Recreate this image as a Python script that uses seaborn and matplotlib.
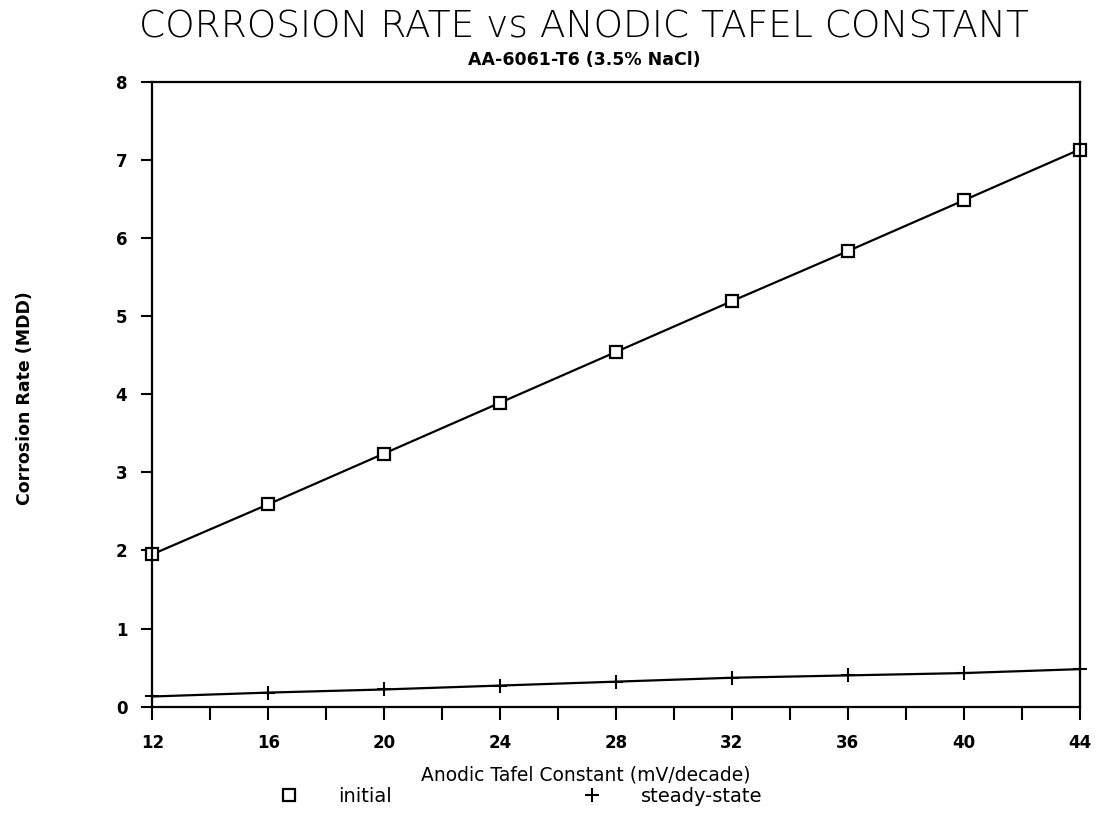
import matplotlib
matplotlib.use('Agg')
import matplotlib.pyplot as plt
from matplotlib.lines import Line2D
from matplotlib.ticker import MultipleLocator
import seaborn as sns
import pandas as pd

sns.set_style('white')
plt.rcParams['font.family'] = ['DejaVu Sans']
plt.rcParams['text.color'] = 'black'
plt.rcParams['xtick.color'] = 'black'
plt.rcParams['ytick.color'] = 'black'

# Data
tafel = [12, 16, 20, 24, 28, 32, 36, 40, 44]
initial = [1.95, 2.59, 3.24, 3.89, 4.54, 5.19, 5.83, 6.48, 7.13]
steady = [0.13, 0.18, 0.22, 0.27, 0.32, 0.37, 0.40, 0.43, 0.48]

df = pd.DataFrame({'tafel': tafel, 'initial': initial, 'steady': steady})

fig = plt.figure(figsize=(10.96, 8.16), dpi=100)
ax = fig.add_axes([0.139, 0.134, 0.846, 0.766])

sns.lineplot(data=df, x='tafel', y='initial', ax=ax, color='black', lw=1.6,
             marker='s', markersize=8, markerfacecolor='white',
             markeredgecolor='black', markeredgewidth=1.6, clip_on=False)
sns.lineplot(data=df, x='tafel', y='steady', ax=ax, color='black', lw=1.6,
             marker='+', markersize=10, markeredgecolor='black',
             markeredgewidth=1.5, clip_on=False)

ax.set_xlim(12, 44)
ax.set_ylim(0, 8)
ax.xaxis.set_major_locator(MultipleLocator(4))
ax.xaxis.set_minor_locator(MultipleLocator(2))
ax.yaxis.set_major_locator(MultipleLocator(1))
ax.tick_params(axis='both', which='both', direction='out',
               labelsize=12, bottom=True, left=True)
ax.tick_params(axis='x', which='major', length=9, width=1.5, pad=11)
ax.tick_params(axis='x', which='minor', length=9, width=1.5)
ax.tick_params(axis='y', which='major', length=8, width=1.5, pad=10)
for lab in ax.get_xticklabels() + ax.get_yticklabels():
    lab.set_fontweight('bold')
for sp in ax.spines.values():
    sp.set_color('black')
    sp.set_linewidth(1.6)

ax.set_xlabel('')
ax.set_ylabel('')
fig.text(0.533, 0.967, 'CORROSION RATE vs ANODIC TAFEL CONSTANT',
         ha='center', va='center', fontsize=27, fontweight='light')
fig.text(0.533, 0.926, 'AA-6061-T6 (3.5% NaCl)', ha='center', va='center',
         fontsize=12.5, fontweight='bold')
fig.text(0.023, 0.512, 'Corrosion Rate (MDD)', rotation=90, ha='center',
         va='center', fontsize=12.5, fontweight='bold')
fig.text(0.534, 0.05, 'Anodic Tafel Constant (mV/decade)', ha='center',
         va='center', fontsize=13.5)

handles = [Line2D([], [], ls='none', marker='s', mfc='white', mec='black',
                  markersize=8, mew=1.6),
           Line2D([], [], ls='none', marker='+', color='black', markersize=10, mew=1.5)]
fig.legend(handles, ['initial', 'steady-state'], loc='center left',
           bbox_to_anchor=(0.255, 0.024), ncol=2, frameon=False, fontsize=14,
           handlelength=1, handletextpad=2.0, columnspacing=9.8,
           borderpad=0, borderaxespad=0)

fig.savefig('out.png', dpi=100)
